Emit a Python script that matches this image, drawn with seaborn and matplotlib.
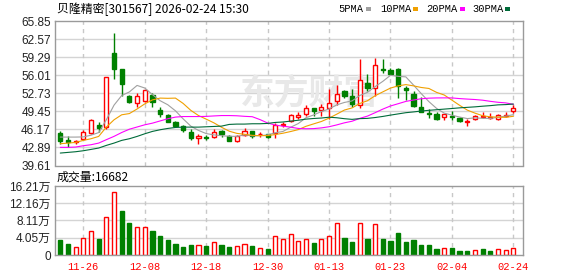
import matplotlib
matplotlib.use("Agg")
import matplotlib.pyplot as plt
from matplotlib.patches import Rectangle
import seaborn as sns
import pandas as pd

# ---------------- data ----------------
dates = ["11-21", "11-24", "11-25", "11-26", "11-27", "11-28",
         "12-01", "12-02", "12-03", "12-04", "12-05",
         "12-08", "12-09", "12-10", "12-11", "12-12",
         "12-15", "12-16", "12-17", "12-18", "12-19",
         "12-22", "12-23", "12-24", "12-25", "12-26",
         "12-29", "12-30", "12-31",
         "01-05", "01-06", "01-07", "01-08", "01-09",
         "01-12", "01-13", "01-14", "01-15", "01-16",
         "01-19", "01-20", "01-21", "01-22", "01-23",
         "01-26", "01-27", "01-28", "01-29", "01-30",
         "02-02", "02-03", "02-04", "02-05", "02-06",
         "02-09", "02-10", "02-11", "02-12", "02-13",
         "02-24"]

opens = [45.50, 44.17, 43.87, 44.41, 45.50, 46.94, 46.58, 60.05, 57.09, 52.20,
         51.05, 51.29, 52.38, 49.66, 48.76, 47.43, 46.70, 45.68, 44.53, 44.77,
         44.71, 45.80, 45.01, 43.99, 45.19, 45.86, 45.25, 45.25, 45.50, 46.94,
         47.61, 48.39, 48.88, 50.03, 49.60, 50.03, 51.41, 53.05, 52.20, 50.57,
         54.68, 53.71, 57.15, 56.97, 57.15, 53.77, 52.62, 50.21, 49.12, 49.00,
         48.39, 48.64, 48.27, 47.49, 47.97, 48.46, 48.15, 48.09, 48.64, 49.54]
closes = [43.99, 43.93, 44.05, 45.68, 47.91, 46.39, 55.64, 57.21, 54.43, 51.17,
          52.32, 53.29, 51.17, 48.94, 47.49, 46.82, 45.98, 44.59, 45.01, 44.65,
          45.62, 45.25, 44.05, 44.95, 45.86, 44.89, 45.37, 44.77, 46.88, 47.06,
          48.70, 48.76, 50.03, 49.42, 50.15, 50.93, 52.56, 52.26, 50.81, 55.10,
          53.71, 57.82, 57.03, 56.31, 54.13, 53.23, 50.33, 49.36, 49.00, 47.97,
          48.94, 48.46, 47.67, 47.61, 48.64, 48.52, 48.33, 48.76, 48.80, 49.97]
highs = [45.92, 44.95, 44.29, 46.10, 48.03, 47.43, 55.64, 63.74, 57.09, 52.50,
         52.80, 53.41, 52.74, 50.15, 49.00, 47.73, 46.88, 46.28, 45.25, 45.19,
         46.28, 46.04, 45.19, 45.19, 46.40, 45.86, 45.68, 45.37, 47.25, 47.49,
         48.94, 49.30, 50.57, 50.03, 50.81, 53.47, 54.19, 53.35, 53.47, 58.90,
         56.19, 59.08, 58.90, 57.27, 57.39, 54.07, 53.17, 52.02, 49.84, 49.24,
         48.94, 49.54, 48.39, 48.09, 48.82, 49.30, 49.06, 48.94, 49.30, 50.51]
lows = [43.56, 43.02, 43.56, 44.17, 45.32, 45.74, 46.22, 55.34, 52.26, 50.87,
        50.15, 51.17, 50.21, 48.39, 47.43, 46.52, 45.74, 44.29, 43.56, 44.17,
        44.59, 44.77, 44.05, 43.80, 44.89, 44.65, 44.71, 44.65, 44.53, 46.58,
        47.43, 48.03, 48.52, 48.64, 48.58, 48.09, 50.63, 51.84, 50.21, 49.97,
        53.17, 52.26, 56.37, 56.13, 51.78, 51.54, 50.21, 49.24, 48.27, 47.91,
        47.91, 47.79, 47.43, 46.70, 47.85, 48.21, 48.09, 47.79, 48.39, 49.06]

ma5 = [44.77, 44.77, 44.77, 44.80, 45.11, 45.59, 47.92, 50.57, 52.32, 52.97,
       54.15, 53.68, 52.48, 51.38, 50.64, 49.54, 48.08, 46.76, 45.98, 45.41,
       45.17, 45.02, 44.92, 44.90, 45.15, 45.00, 45.02, 45.17, 45.55, 45.79,
       46.56, 47.23, 48.29, 48.79, 49.41, 49.86, 50.62, 51.06, 51.34, 52.33,
       52.89, 53.94, 54.89, 55.99, 55.80, 55.70, 54.21, 52.67, 51.21, 49.98,
       49.12, 48.75, 48.41, 48.13, 48.26, 48.18, 48.15, 48.37, 48.58, 48.84]
ma10 = [43.56, 43.68, 43.80, 44.17, 44.47, 44.89, 46.58, 47.91, 48.82, 49.04,
        49.87, 50.80, 51.52, 51.85, 51.81, 51.85, 50.88, 49.62, 48.68, 48.03,
        47.36, 46.55, 45.84, 45.44, 45.28, 45.09, 45.02, 45.04, 45.23, 45.47,
        45.78, 46.13, 46.73, 47.17, 47.60, 48.21, 48.93, 49.68, 50.07, 50.87,
        51.37, 52.28, 52.98, 53.67, 54.07, 54.30, 54.07, 53.78, 53.60, 52.89,
        52.41, 51.48, 50.54, 49.67, 49.12, 48.65, 48.45, 48.39, 48.35, 48.55]
ma20 = [42.90, 42.90, 42.96, 43.20, 43.38, 43.68, 44.30, 44.90, 45.60, 46.20,
        46.60, 47.00, 47.30, 47.70, 48.10, 48.40, 48.50, 48.50, 48.50, 48.53,
        48.61, 48.68, 48.68, 48.64, 48.54, 48.47, 47.95, 47.33, 46.95, 46.75,
        46.57, 46.34, 46.28, 46.31, 46.44, 46.65, 46.98, 47.36, 47.65, 48.17,
        48.58, 49.20, 49.85, 50.42, 50.83, 51.25, 51.50, 51.73, 51.84, 51.88,
        51.89, 51.88, 51.76, 51.67, 51.59, 51.47, 51.26, 51.09, 50.98, 50.72]
ma30 = [41.87, 41.99, 42.11, 42.29, 42.53, 42.78, 43.26, 43.68, 44.17, 44.47,
        44.89, 45.37, 45.80, 46.10, 46.34, 46.52, 46.58, 46.58, 46.58, 46.64,
        46.70, 46.76, 47.07, 47.13, 47.13, 47.19, 47.19, 47.25, 47.43, 47.51,
        47.67, 47.83, 48.03, 48.15, 48.23, 48.38, 48.28, 48.11, 47.99, 48.12,
        48.17, 48.32, 48.52, 48.76, 48.98, 49.20, 49.34, 49.50, 49.63, 49.74,
        49.85, 49.96, 50.08, 50.17, 50.26, 50.38, 50.48, 50.62, 50.67, 50.77]

# volume in 万 shares
volumes = [3.50, 2.57, 1.79, 3.90, 5.53, 3.74, 9.00, 14.90, 10.30, 7.50,
           6.50, 6.50, 5.60, 4.40, 3.50, 2.57, 1.87, 2.34, 2.26, 2.10,
           2.96, 2.34, 1.87, 2.03, 2.50, 2.10, 1.64, 1.40, 4.36, 3.66,
           4.83, 3.27, 3.66, 2.80, 3.66, 4.44, 7.48, 3.97, 3.10, 7.63,
           3.74, 7.40, 3.74, 3.27, 5.20, 3.10, 3.50, 2.34, 2.34, 1.40,
           1.56, 1.64, 1.00, 1.00, 1.10, 1.40, 1.00, 1.30, 1.17, 1.67]
vol_dir = list("GGRRRGRRGG" "RRGGGGGGRG" "RGGRRGRGRR"
               "RRRGRRRGGR" "GRGGGGGGGG" "RGGGRGGRRR")

price_ticks = [39.61, 42.89, 46.17, 49.45, 52.73, 56.01, 59.29, 62.57, 65.85]
vol_ticks = [0, 4.05, 8.11, 12.16, 16.21]
vol_tick_labels = ["0", "4.05万", "8.11万", "12.16万", "16.21万"]
tick_dates = ["11-26", "12-08", "12-18", "12-30", "01-13", "01-23", "02-04", "02-24"]

title = "贝隆精密[301567] 2026-02-24 15:30"
vol_title = "成交量:16682"
ma_names = ["5PMA", "10PMA", "20PMA", "30PMA"]

# ---------------- style ----------------
sns.set_theme(style="white")
plt.rcParams['font.family'] = ['Liberation Sans', 'Noto Sans CJK SC', 'DejaVu Sans']

RED = "#ff0000"
GREEN = "#008000"
MA_COLORS = ["#a0a0a0", "#f0a000", "#ff00ff", "#006b3a"]
GRID = "#d4d4d4"
SPINE = "#9a9a9a"

df = pd.DataFrame({"date": dates, "open": opens, "close": closes,
                   "high": highs, "low": lows, "vol": volumes,
                   "vdir": vol_dir, "MA5": ma5, "MA10": ma10,
                   "MA20": ma20, "MA30": ma30})
df["idx"] = range(len(df))

W, H = 578, 276
fig = plt.figure(figsize=(W / 100, H / 100), dpi=100)
fig.patch.set_facecolor("white")
ax = fig.add_axes([55 / W, 1 - 165.5 / H, 467.5 / W, 144.5 / H])
axv = fig.add_axes([55 / W, 1 - 255 / H, 467.5 / W, 69 / H])

XL = (-0.686, 60.19)
tick_pos = [dates.index(d) for d in tick_dates]

for a in (ax, axv):
    a.set_facecolor("white")
    a.set_xlim(*XL)
    for s in a.spines.values():
        s.set_color(SPINE)
        s.set_linewidth(1)
        s.set_visible(True)
    for t in tick_pos:
        a.axvline(t, color="#c8c8c8", lw=1, ls=(0, (3, 3)), zorder=0.6)
    a.tick_params(axis="both", length=0)

# ---- price panel ----
ax.set_ylim(price_ticks[0], price_ticks[-1])
ax.set_yticks(price_ticks)
ax.set_yticklabels([f"{v:.2f}" for v in price_ticks])
for v in price_ticks[1:-1]:
    ax.axhline(v, color=GRID, lw=1, zorder=0.5)
ax.tick_params(axis="y", pad=3, labelsize=8.5, labelcolor="#222222")
ax.set_xticks([])

ax.text(0.545, 0.50, "东方财富", transform=ax.transAxes, ha="center", va="center",
        fontsize=25, fontweight="bold", color="#e8e8e8",
        family=["Noto Sans CJK SC"], zorder=0.7)

bw = 0.55
for _, r in df.iterrows():
    i = r["idx"]
    o, c, h, l = r["open"], r["close"], r["high"], r["low"]
    up = c >= o
    col = RED if up else GREEN
    top, bot = max(o, c), min(o, c)
    bh = max(top - bot, 0.03)
    if up:
        ax.vlines(i, top, h, color=col, lw=1, zorder=2)
        ax.vlines(i, l, bot, color=col, lw=1, zorder=2)
        ax.bar(i, bh, bottom=bot, width=bw, facecolor="white", edgecolor=col,
               linewidth=1, zorder=2.1)
    else:
        ax.vlines(i, l, h, color=col, lw=1, zorder=2)
        ax.bar(i, bh, bottom=bot, width=bw, facecolor=col, edgecolor=col,
               linewidth=1, zorder=2.1)

for name, colr in zip(["MA5", "MA10", "MA20", "MA30"], MA_COLORS):
    sns.lineplot(data=df, x="idx", y=name, ax=ax, color=colr, lw=0.8,
                 zorder=3, legend=False)
ax.set_xlabel("")
ax.set_ylabel("")
ax.set_xlim(*XL)

# ---- volume panel ----
axv.set_ylim(vol_ticks[0], vol_ticks[-1])
axv.set_yticks(vol_ticks)
axv.set_yticklabels(vol_tick_labels)
for v in vol_ticks[1:-1]:
    axv.axhline(v, color=GRID, lw=1, zorder=0.5)
axv.tick_params(axis="y", pad=3, labelsize=8.5, labelcolor="#222222")
for _, r in df.iterrows():
    up = r["vdir"] == "R"
    col = RED if up else GREEN
    axv.bar(r["idx"], r["vol"], width=bw, facecolor="white" if up else col,
            edgecolor=col, linewidth=1, zorder=2)
axv.set_xticks(tick_pos)
axv.set_xticklabels(tick_dates)
axv.tick_params(axis="x", pad=5, labelsize=7.5, labelcolor=RED)
for lbl in axv.get_xticklabels():
    lbl.set_fontfamily("Liberation Mono")
axv.set_xlim(*XL)

# ---- header texts ----
fig.text(57 / W, 1 - 9.5 / H, title, family=["Noto Sans CJK SC", "DejaVu Sans"],
         fontsize=8.6, color="#000000", ha="left", va="center")
fig.text(57 / W, 1 - 177.5 / H, vol_title, family=["Noto Sans CJK SC", "DejaVu Sans"],
         fontsize=8.6, color="#000000", ha="left", va="center")

label_x = [338, 380, 426, 472]
square_x = [366, 413, 460, 505]
for name, colr, lx, sx in zip(ma_names, MA_COLORS, label_x, square_x):
    fig.text(lx / W, 1 - 9.5 / H, name, family=["Liberation Mono"], fontsize=7.5,
             color="#000000", ha="left", va="center")
    fig.add_artist(Rectangle((sx / W, 1 - 10.5 / H), 5 / W, 3 / H,
                             transform=fig.transFigure, facecolor=colr,
                             edgecolor="none"))

fig.savefig("out.png", dpi=100, facecolor="white")
